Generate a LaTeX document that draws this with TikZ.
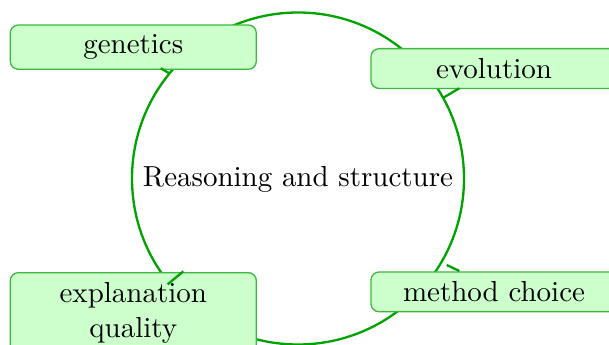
\documentclass[tikz,border=0pt]{standalone}
\begin{document}
\begin{tikzpicture}[x=0.345pt,y=-0.345pt,
  ringcol/.style={draw=ringgreen, line width=0.8pt},
  topicbox/.style={draw=boxgreen, fill=boxfill, line width=0.45pt, rounded corners=2.8pt,
    rectangle, minimum width=84.9pt, anchor=north, align=center},
  barb/.style={draw=ringgreen, line width=0.8pt}]
\definecolor{ringgreen}{RGB}{0,163,0}
\definecolor{boxgreen}{RGB}{60,185,60}
\definecolor{boxfill}{RGB}{204,255,204}
\useasboundingbox (0,0) rectangle (609,345);
% ring
\coordinate (ringc) at (298,178.5);
\draw[ringcol] (ringc) circle[radius=57.27pt];
\node (hub) at (298,179) {Reasoning and structure};
% topic boxes
\node[topicbox] (gen) at (133.3,24.3) {genetics};
\node[topicbox] (evo) at (494,48) {evolution};
\node[topicbox] (met) at (494,271.3) {method choice};
\node[topicbox, text width=78.2pt] (exq) at (133.3,272)
  {\fontsize{10}{10.5}\selectfont explanation\\quality};
% arrow barbs
\coordinate (g1) at (168.8,73);
\coordinate (g2) at (160.7,68.3);
\coordinate (e1) at (443.3,97.7);
\coordinate (e2) at (459.3,88.3);
\coordinate (m1) at (446.7,265);
\coordinate (m2) at (459.3,271);
\coordinate (x1) at (183.3,271.3);
\coordinate (x2) at (167.7,284.3);
\draw[barb] (g1) -- (g2);
\draw[barb] (e1) -- (e2);
\draw[barb] (m1) -- (m2);
\draw[barb] (x1) -- (x2);
\end{tikzpicture}
\end{document}
